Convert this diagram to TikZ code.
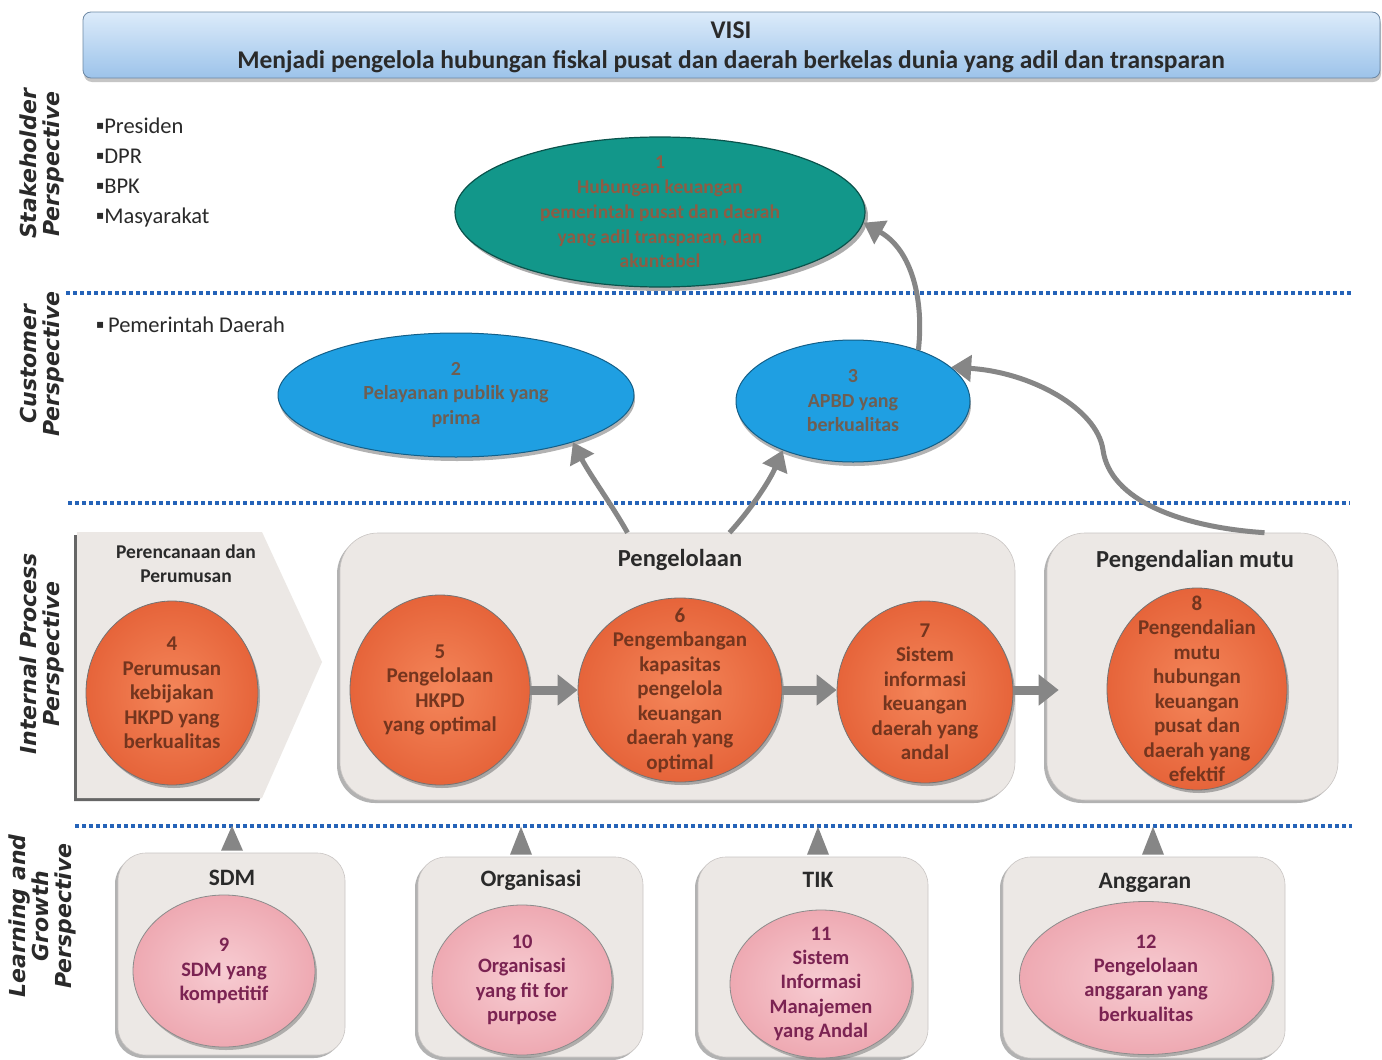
\documentclass[tikz,border=0pt]{standalone}
\usepackage{fontspec}
\setmainfont{Carlito}
\newfontfamily\dvs{DejaVu Sans}
\usetikzlibrary{shapes.geometric,arrows.meta,shadows,calc}
\definecolor{bannerTop}{HTML}{DCEBFA}
\definecolor{bannerBot}{HTML}{9CC3EA}
\definecolor{tealF}{HTML}{12978A}
\definecolor{skyb}{HTML}{1F9FE2}
\definecolor{orngIn}{HTML}{F4865A}
\definecolor{orngOut}{HTML}{E6643A}
\definecolor{pinkIn}{HTML}{F7CCD2}
\definecolor{pinkOut}{HTML}{EEA9B2}
\definecolor{boxg}{HTML}{ECE8E5}
\definecolor{arrg}{HTML}{868686}
\definecolor{dotb}{HTML}{2563B8}
\definecolor{txtdark}{HTML}{2A2A2A}
\definecolor{txtbrown}{HTML}{74351E}
\definecolor{txtpink}{HTML}{7B2352}
\definecolor{txtteal}{HTML}{8E5C44}
\definecolor{txtblue}{HTML}{6E5E52}
\newcommand{\sqb}{{\dvs\fontsize{12}{12}\selectfont\raisebox{4pt}{▪}}}
\begin{document}
\begin{tikzpicture}[x=1pt,y=-1pt,
  banner/.style={rectangle, rounded corners=8pt, top color=bannerTop, bottom color=bannerBot, draw=bannerBot!70!black, line width=0.8pt, drop shadow={shadow xshift=1pt, shadow yshift=-4pt, fill=black!45}},
  plabel/.style={rotate=90, align=center, font=\dvs\bfseries\itshape\fontsize{22}{23}\selectfont, text=txtdark},
  bul/.style={anchor=west, align=left, inner sep=0pt, font=\fontsize{22.5}{30}\selectfont, text=txtdark},
  dotline/.style={draw=dotb, line width=3.5pt, dash pattern=on 3.5pt off 3.5pt},
  boxst/.style={rectangle, fill=boxg, draw=boxg!85!black, line width=0.6pt, inner sep=0pt, drop shadow={shadow xshift=-3pt, shadow yshift=-3pt, fill=black!60}},
  ttl/.style={align=center, text=txtdark, font=\bfseries\fontsize{24.5}{28}\selectfont},
  orangec/.style={ellipse, inner sep=0pt, draw=black!55, line width=0.8pt, shading=radial, inner color=orngIn, outer color=orngOut, drop shadow={shadow xshift=2pt, shadow yshift=-3pt, fill=black!60}},
  pinkc/.style={ellipse, inner sep=0pt, draw=black!45, line width=0.8pt, shading=radial, inner color=pinkIn, outer color=pinkOut, drop shadow={shadow xshift=2pt, shadow yshift=-3pt, fill=black!55}},
  blueE/.style={ellipse, inner sep=0pt, fill=skyb, draw=skyb!60!black, line width=1pt, drop shadow={shadow xshift=1pt, shadow yshift=-4pt, fill=black!60}},
  ctext/.style={align=center, text=txtbrown, font=\bfseries\fontsize{21}{24.5}\selectfont},
  ptext/.style={align=center, text=txtpink, font=\bfseries\fontsize{20.5}{24.3}\selectfont},
  gtext/.style={align=center, text=txtteal, font=\bfseries\fontsize{19.5}{24.8}\selectfont},
  btext/.style={align=center, text=txtblue, font=\bfseries\fontsize{20}{24.5}\selectfont},
  garrow/.style={draw=arrg, line width=5pt, -{Triangle[length=20pt,width=26pt]}},
  flowarrow/.style={draw=arrg, line width=9pt, -{Triangle[length=20pt,width=30pt]}},
  uptri/.style={fill=arrg}
]
\useasboundingbox[fill=white] (0,0) rectangle (1382,1060);

% banner
\node[banner, minimum width=1297pt, minimum height=66pt] (visi) at (731.5,45) {};
\node[align=center, text=txtdark, font=\bfseries\fontsize{25.5}{30}\selectfont] (visit) at (731,47)
  {VISI\\Menjadi pengelola hubungan fiskal pusat dan daerah berkelas dunia yang adil dan transparan};

% perspective labels
\node[plabel] (l1) at (42,164) {Stakeholder\\Perspective};
\node[plabel] (l2) at (42,364) {Customer\\Perspective};
\node[plabel] (l3) at (42,654) {Internal Process\\Perspective};
\node[plabel] (l4) at (42,916) {Learning and\\Growth\\Perspective};

% stakeholder / customer lists
\node[bul] (stk) at (96,172) {\sqb Presiden\\\sqb DPR\\\sqb BPK\\\sqb Masyarakat};
\node[bul] (cst) at (96,325) {\sqb\,Pemerintah Daerah};

% dotted separators
\draw[dotline] (66,293) -- (1352,293);
\draw[dotline] (68,503) -- (1350,503);
\draw[dotline] (75,826) -- (1352,826);

% objective 1
\node[ellipse, inner sep=0pt, fill=tealF, draw=tealF!55!black, line width=1.2pt, minimum width=410pt, minimum height=150pt,
      drop shadow={shadow xshift=3pt, shadow yshift=-4pt, fill=black!65}] (o1) at (660,212) {};
\node[gtext] (o1t) at (o1) {1\\Hubungan keuangan\\pemerintah pusat dan daerah\\yang adil transparan, dan\\akuntabel};

% objectives 2, 3
\node[blueE, minimum width=356pt, minimum height=124pt] (o2) at (456,395) {};
\node[btext] (o2t) at (o2) {2\\Pelayanan publik yang\\prima};
\node[blueE, minimum width=234pt, minimum height=122pt] (o3) at (853,401) {};
\node[btext] (o3t) at (o3) {3\\APBD yang\\berkualitas};

% internal process boxes
\fill[black!60] (74,535) -- (259,535) -- (319,665) -- (259,801) -- (74,801) -- cycle;
\fill[boxg] (77,532) -- (262,532) -- (322,662) -- (262,798) -- (77,798) -- cycle;
\node[ttl, font=\bfseries\fontsize{19.5}{24}\selectfont] (At) at (186,564) {Perencanaan dan\\Perumusan};

\node[boxst, rounded corners=38pt, minimum width=675pt, minimum height=267pt] (P) at (677.5,666.5) {};
\node[ttl] (Pt) at (680,560) {Pengelolaan};
\node[boxst, rounded corners=38pt, minimum width=291pt, minimum height=267pt] (Q) at (1192.5,666.5) {};
\node[ttl] (Qt) at (1195,561) {Pengendalian mutu};

\node[orangec, minimum width=172pt, minimum height=184pt] (c4) at (172,693) {};
\node[ctext] (c4t) at (c4) {4\\Perumusan\\kebijakan\\HKPD yang\\berkualitas};
\node[orangec, minimum width=180pt, minimum height=190pt] (c5) at (440,690) {};
\node[ctext] (c5t) at (c5) {5\\Pengelolaan\\HKPD\\yang optimal};
\node[orangec, minimum width=204pt, minimum height=184pt] (c6) at (680,690) {};
\node[ctext] (c6t) at (c6) {6\\Pengembangan\\kapasitas\\pengelola\\keuangan\\daerah yang\\optimal};
\node[orangec, minimum width=176pt, minimum height=182pt] (c7) at (925,692) {};
\node[ctext] (c7t) at (c7) {7\\Sistem\\informasi\\keuangan\\daerah yang\\andal};
\node[orangec, minimum width=180pt, minimum height=202pt] (c8) at (1197,689) {};
\node[ctext] (c8t) at (c8) {8\\Pengendalian\\mutu\\hubungan\\keuangan\\pusat dan\\daerah yang\\efektif};

\draw[flowarrow] (c5.east) -- (c5.east -| c6.west);
\draw[flowarrow] (c6.east) -- (c6.east -| c7.west);
\draw[flowarrow, shorten >=-12pt] (c6.east -| c7.east) -- (c6.east -| Q.west);

% learning and growth boxes
\node[boxst, rounded corners=28pt, minimum width=227pt, minimum height=202pt] (B1) at (231.5,954) {};
\node[ttl, font=\bfseries\fontsize{23.5}{28}\selectfont] (B1t) at (232,878) {SDM};
\node[boxst, rounded corners=28pt, minimum width=225pt, minimum height=200pt] (B2) at (530.5,957) {};
\node[ttl, font=\bfseries\fontsize{23.5}{28}\selectfont] (B2t) at (531,880) {Organisasi};
\node[boxst, rounded corners=28pt, minimum width=230pt, minimum height=200pt] (B3) at (813,957) {};
\node[ttl, font=\bfseries\fontsize{23.5}{28}\selectfont] (B3t) at (818,880) {TIK};
\node[boxst, rounded corners=28pt, minimum width=282pt, minimum height=201pt] (B4) at (1144,957.5) {};
\node[ttl, font=\bfseries\fontsize{23.5}{28}\selectfont] (B4t) at (1145,883) {Anggaran};

\node[pinkc, minimum width=182pt, minimum height=152pt] (e9) at (224,971) {};
\node[ptext] (e9t) at (e9) {9\\SDM yang\\kompetitif};
\node[pinkc, minimum width=180pt, minimum height=150pt] (e10) at (522,980) {};
\node[ptext] (e10t) at (e10) {10\\Organisasi\\yang fit for\\purpose};
\node[pinkc, minimum width=182pt, minimum height=148pt] (e11) at (821,984) {};
\node[ptext] (e11t) at (e11) {11\\Sistem\\Informasi\\Manajemen\\yang Andal};
\node[pinkc, minimum width=253pt, minimum height=153pt] (e12) at (1146,978) {};
\node[ptext] (e12t) at (e12) {12\\Pengelolaan\\anggaran yang\\berkualitas};

% small up-triangles above the learning boxes
\fill[uptri] ([xshift=-10.5pt,yshift=2pt]B1.north) -- ([xshift=0.5pt,yshift=27pt]B1.north) -- ([xshift=11.5pt,yshift=2pt]B1.north) -- cycle;
\fill[uptri] ([xshift=-20.5pt,yshift=2pt]B2.north) -- ([xshift=-9.5pt,yshift=30pt]B2.north) -- ([xshift=1.5pt,yshift=2pt]B2.north) -- cycle;
\fill[uptri] ([xshift=-6pt,yshift=2pt]B3.north) -- ([xshift=5pt,yshift=30pt]B3.north) -- ([xshift=16pt,yshift=2pt]B3.north) -- cycle;
\fill[uptri] ([xshift=-2pt,yshift=2pt]B4.north) -- ([xshift=9pt,yshift=30pt]B4.north) -- ([xshift=20pt,yshift=2pt]B4.north) -- cycle;

% curved connectors
\draw[garrow] ([xshift=-50pt]P.north) .. controls (612,505) and (590,475) .. (o2.-22);
\draw[garrow] ([xshift=52pt]P.north) .. controls (752,508) and (770,480) .. (o3.-145);
\draw[garrow] (o3.38) .. controls (924,300) and (912,250) .. (o1.-3);
\draw[garrow] ([xshift=72pt]Q.north) .. controls (1180,527) and (1110,500) .. (1103,450)
      .. controls (1097,408) and (1030,372) .. (o3.19);
\end{tikzpicture}
\end{document}
